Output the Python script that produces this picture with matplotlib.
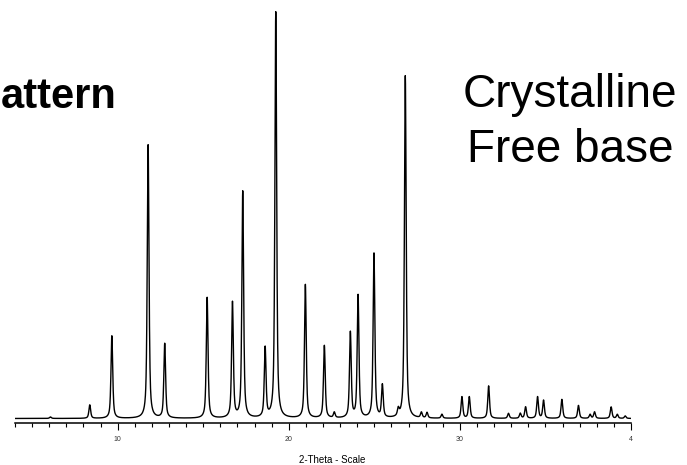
import matplotlib.pyplot as plt
import numpy as np
from matplotlib.ticker import MultipleLocator, FixedLocator

plt.rcParams['font.family'] = ['Liberation Sans', 'DejaVu Sans']

# peak list (2-theta, counts)
peak_pos = [6.07, 8.37, 9.66, 11.78, 12.75, 15.23, 16.71, 17.31, 18.62, 19.24,
            20.97, 22.08, 22.66, 23.60, 24.05, 24.98, 25.47, 26.40, 26.81, 27.75,
            28.08, 28.95, 30.12, 30.55, 31.68, 32.84, 33.53, 33.84, 34.54, 34.89,
            35.96, 36.93, 37.61, 37.87, 38.84, 39.20, 39.66]
peak_int = [15, 135, 825, 2735, 745, 1208, 1155, 2265, 695, 4060,
            1335, 725, 55, 855, 1225, 1645, 325, 70, 3425, 55,
            55, 40, 215, 215, 325, 50, 50, 115, 215, 180,
            190, 130, 40, 65, 115, 40, 25]
tick_vals = [10, 20, 30, 40]
tick_text = ["10", "20", "30", "4"]

# pseudo-voigt profile for each peak
fwhm = 0.12
eta = 0.65
tt = np.arange(4.0, 40.0, 0.01)
counts = np.zeros_like(tt)
for p, h in zip(peak_pos, peak_int):
    d = (tt - p) / (fwhm / 2)
    lor = 1 / (1 + d**2)
    gau = np.exp(-np.log(2) * d**2)
    counts += h * (eta * lor + (1 - eta) * gau)

fig = plt.figure(figsize=(6.87, 4.65), dpi=100)
ax = fig.add_axes([15/687, 1 - 422.5/465, 616/687, 422.5/465])
ax.plot(tt, counts, color="black", lw=1.0)
ax.set_xlim(4, 40)
ax.set_ylim(-40, 4185)

for s in ["top", "left", "right"]:
    ax.spines[s].set_visible(False)
ax.spines["bottom"].set_linewidth(1.1)
ax.set_yticks([])
ax.xaxis.set_major_locator(FixedLocator(tick_vals))
ax.xaxis.set_minor_locator(MultipleLocator(1))
ax.set_xticklabels(tick_text)
ax.tick_params(axis="x", which="major", length=5, width=0.8, labelsize=5,
               pad=5, labelcolor="#333333")
ax.tick_params(axis="x", which="minor", length=3, width=0.8)

fig.text(331.7/687, 1 - 460/465, "2-Theta - Scale", fontsize=7, ha="center", va="center")
fig.text(1/687, 1 - 108.3/465, "attern", fontsize=30, fontweight="bold",
         ha="left", va="baseline")
fig.text(570/687, 1 - 106.7/465, "Crystalline", fontsize=33, ha="center", va="baseline")
fig.text(570/687, 1 - 161.7/465, "Free base", fontsize=33, ha="center", va="baseline")

fig.savefig("out.png", dpi=100)
